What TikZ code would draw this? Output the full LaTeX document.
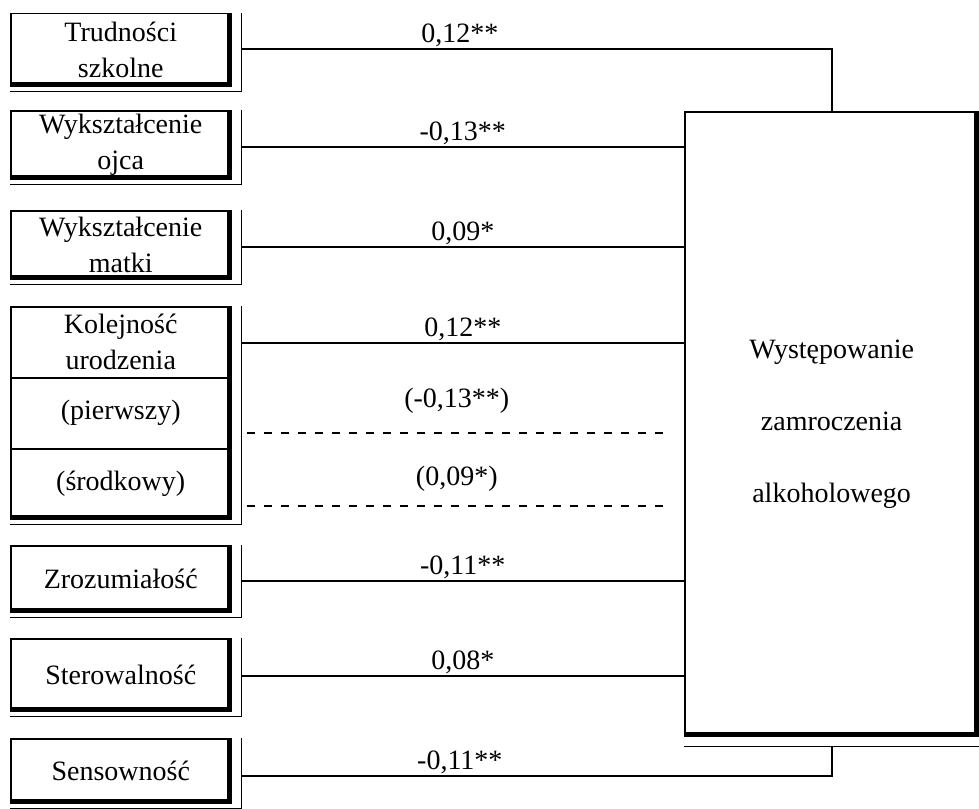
\documentclass[tikz,border=0pt]{standalone}
\usepackage{fontspec}
\setmainfont{Liberation Serif}
\usetikzlibrary{calc}
\begin{document}
\begin{tikzpicture}[x=1pt,y=-1pt,
  lbox/.style={draw, line width=1.5pt, inner sep=0pt, anchor=north west, minimum width=220pt, align=center, font=\fontsize{28}{36}\selectfont},
  bar/.style={line width=5pt, line join=miter},
  outl/.style={line width=1.2pt},
  conn/.style={line width=1.8pt},
  dconn/.style={line width=1.5pt, dash pattern=on 8pt off 9pt},
  lab/.style={font=\fontsize{28}{34}\selectfont, anchor=base, inner sep=0pt, yshift=6pt}]
\useasboundingbox (0,0) rectangle (979,808);

\node[lbox, minimum height=72pt] (b1) at (10,13) {Trudności\\szkolne};
\node[lbox, minimum height=68pt] (b2) at (10,110) {Wykształcenie\\ojca};
\node[lbox, minimum height=68pt] (b3) at (10,210) {Wykształcenie\\matki};
\node[lbox, minimum height=71pt] (b4a) at (10,306) {Kolejność\\urodzenia};
\node[lbox, minimum height=71pt] (b4b) at (10,377) {(pierwszy)};
\node[lbox, minimum height=70pt] (b4c) at (10,448) {(środkowy)};
\node[lbox, minimum height=66pt] (b5) at (10,545) {Zrozumiałość};
\node[lbox, minimum height=72pt] (b6) at (10,638) {Sterowalność};
\node[lbox, minimum height=64pt] (b7) at (10,738) {Sensowność};

\foreach \t/\b in {b1/b1,b2/b2,b3/b3,b4a/b4c,b5/b5,b6/b6,b7/b7}{
  \draw[bar] ($(\t.north east)+(-2.2,1)$) -- ($(\b.south east)+(-2.2,-2.2)$) -- ($(\b.south west)+(0.7,-2.2)$);
  \draw[outl] ($(\t.north east)+(10,0)$) -- ($(\b.south east)+(10,5)$) -- ($(\b.south west)+(0,5)$);
}

\node[draw, line width=2.2pt, inner sep=0pt, anchor=north west, minimum width=293pt, minimum height=624pt, align=center, font=\fontsize{28}{72}\selectfont] (big) at (684,111) {Występowanie\\zamroczenia\\alkoholowego};
\draw[line width=5.5pt] ($(big.north east)+(-2.5,1)$) -- ($(big.south east)+(-2.5,-2.8)$) -- ($(big.south west)+(1,-2.8)$);
\draw[outl] ($(big.south west)+(0,9)$) -- ($(big.south east)+(5,9)$);

\draw[conn] ($(b1.east)+(10,-1)$) coordinate (s1) -- node[lab,pos=0.37]{0,12**} (s1 -| big.north) -- (big.north);
\draw[conn] ($(b2.east)+(10,2)$) coordinate (s2) -- node[lab]{-0,13**} (s2 -| big.west);
\draw[conn] ($(b3.east)+(10,2)$) coordinate (s3) -- node[lab]{0,09*} (s3 -| big.west);
\draw[conn] ($(b4a.east)+(10,0.5)$) coordinate (s4) -- node[lab]{0,12**} (s4 -| big.west);
\draw[dconn] ($(b4b.east)+(15,19.5)$) coordinate (d1) -- node[lab,yshift=19pt]{(-0,13**)} ($(d1 -| big.west)+(-17,0)$);
\draw[dconn] ($(b4c.east)+(15,22)$) coordinate (d2) -- node[lab,yshift=14pt]{(0,09*)} ($(d2 -| big.west)+(-17,0)$);
\draw[conn] ($(b5.east)+(10,2)$) coordinate (s5) -- node[lab]{-0,11**} (s5 -| big.west);
\draw[conn] ($(b6.east)+(10,1)$) coordinate (s6) -- node[lab]{0,08*} (s6 -| big.west);
\draw[conn] ($(b7.east)+(10,5)$) coordinate (s7) -- node[lab,pos=0.37]{-0,11**} (s7 -| big.south) -- ($(big.south)+(0,9)$);
\end{tikzpicture}
\end{document}
